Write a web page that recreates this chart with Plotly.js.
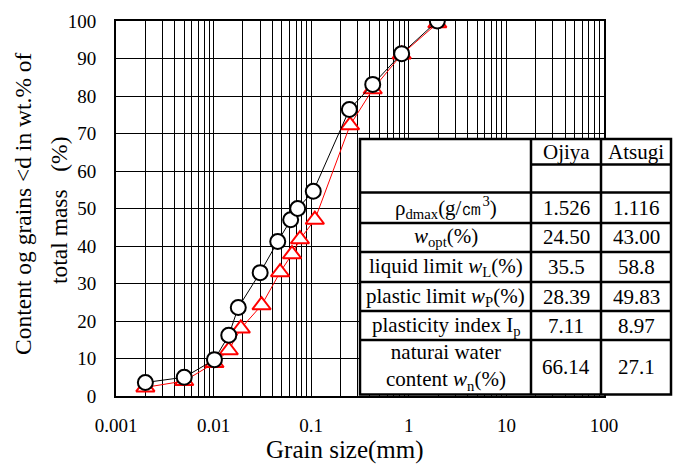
<!DOCTYPE html>
<html>
<head>
<meta charset="utf-8">
<script src="https://cdn.plot.ly/plotly-3.0.1.min.js"></script>
<style>html,body{margin:0;padding:0;background:#fff;}#chart{width:676px;height:464px;}</style>
</head>
<body>
<div id="chart"></div>
<script>
// ---- data ----
const grainSizeA = [0.002, 0.005, 0.0102, 0.0143, 0.0179, 0.030, 0.0454, 0.0616, 0.0727, 0.105, 0.246, 0.427, 0.845, 1.96];
const passingA   = [3.6, 5.0, 9.7, 16.2, 23.6, 32.9, 41.2, 47.0, 50.0, 54.6, 76.4, 83.1, 91.3, 100];
const grainSizeB = [0.002, 0.005, 0.0102, 0.0143, 0.019, 0.031, 0.048, 0.0636, 0.0767, 0.109, 0.25, 0.427, 0.845, 1.96];
const passingB   = [2.3, 4.0, 8.8, 12.2, 18.0, 24.2, 33.0, 37.8, 41.8, 47.0, 72.2, 81.8, 91.1, 99.4];

const tableCols   = ["Ojiya", "Atsugi"];
const rowLabels   = ["ρ<sub>dmax</sub>(g/㎝<sup>3</sup>)", "<i>w</i><sub>opt</sub>(%)", "liquid limit <i>w</i><sub>L</sub>(%)",
                     "plastic limit <i>w</i><sub>P</sub>(%)", "plasticity index I<sub>p</sub>", "naturai water<br>content <i>w</i><sub>n</sub>(%)"];
const ojiyaVals   = ["1.526", "24.50", "35.5", "28.39", "7.11", "66.14"];
const atsugiVals  = ["1.116", "43.00", "58.8", "49.83", "8.97", "27.1"];
const xTickVals   = [0.001, 0.01, 0.1, 1, 10, 100];
const xTickText   = ["0.001", "0.01", "0.1", "1", "10", "100"];
const xTitle      = "Grain size(mm)";
const yTitleLines = ["Content og grains &lt;d in wt.% of", "total mass\u00a0\u00a0\u00a0(%)"];

// ---- layout geometry (pixels) ----
const W = 676, H = 464;
const M = {l: 116, r: 72, t: 21, b: 68};
const PW = W - M.l - M.r, PH = H - M.t - M.b;
const px = v => (v - M.l) / PW;
const py = v => (H - M.b - v) / PH;
const tX = [360, 531, 601, 671];           // column edges
const tY = [139, 164.5, 192.5, 223, 252, 282, 311, 340, 394.5]; // row edges
const FONT = "Liberation Serif, Times New Roman, serif";
const TFS = 21;

const shapes = [];
const line = (x0, y0, x1, y1) => shapes.push({type: 'line', xref: 'paper', yref: 'paper', layer: 'above',
  x0: px(x0), y0: py(y0), x1: px(x1), y1: py(y1), line: {color: '#000', width: 2.5}});
shapes.push({type: 'rect', xref: 'paper', yref: 'paper', layer: 'above',
  x0: px(tX[0]), x1: px(tX[3]), y0: py(tY[0]), y1: py(tY[8]), fillcolor: '#fff', line: {color: '#000', width: 2.5}});
line(tX[1], tY[0], tX[1], tY[8]);
line(tX[2], tY[0], tX[2], tY[8]);
line(tX[1], tY[1], tX[3], tY[1]);
for (let i = 2; i < 8; i++) line(tX[0], tY[i], tX[3], tY[i]);

const annotations = [];
const txt = (text, x, y, size, angle) => annotations.push({text, xref: 'paper', yref: 'paper', x: px(x), y: py(y),
  xanchor: 'center', yanchor: 'middle', showarrow: false, textangle: angle || 0,
  font: {family: FONT, size: size || TFS, color: '#000'}});
txt(tableCols[0], (tX[1] + tX[2]) / 2, (tY[0] + tY[1]) / 2);
txt(tableCols[1], (tX[2] + tX[3]) / 2, (tY[0] + tY[1]) / 2);
for (let i = 0; i < rowLabels.length; i++) {
  const yc = (tY[i + 2] + tY[i + 3]) / 2;
  txt(rowLabels[i], (tX[0] + tX[1]) / 2, yc);
  txt(ojiyaVals[i], (tX[1] + tX[2]) / 2, yc);
  txt(atsugiVals[i], (tX[2] + tX[3]) / 2, yc);
}
// axis titles
txt(xTitle, 345, 450, 25);
txt(yTitleLines[0], 23, 204, 23.5, -90);
txt(yTitleLines[1], 59, 210, 23.5, -90);

const traces = [
  {x: grainSizeB, y: passingB, type: 'scatter', mode: 'lines+markers', name: 'Atsugi',
   line: {color: '#ff0000', width: 1},
   marker: {symbol: 'triangle-up', size: 16, color: '#fff', line: {color: '#ff0000', width: 2}}},
  {x: grainSizeA, y: passingA, type: 'scatter', mode: 'lines+markers', name: 'Ojiya',
   line: {color: '#000', width: 1},
   marker: {symbol: 'circle', size: 15, color: '#fff', line: {color: '#000', width: 2}}}
];

const layout = {
  width: W, height: H, margin: M, showlegend: false,
  paper_bgcolor: '#fff', plot_bgcolor: '#fff',
  font: {family: FONT, color: '#000'},
  xaxis: {type: 'log', range: [-3, 2], tickvals: xTickVals, ticktext: xTickText,
    showgrid: true, gridcolor: '#000', gridwidth: 1,
    minor: {dtick: 'D1', showgrid: true, gridcolor: '#000', gridwidth: 1},
    showline: true, mirror: true, linecolor: '#000', linewidth: 2, ticks: '',
    ticklabelstandoff: 11, tickfont: {family: FONT, size: 19, color: '#000'}, zeroline: false},
  yaxis: {range: [0, 100], dtick: 10, showgrid: true, gridcolor: '#000', gridwidth: 1,
    showline: true, mirror: true, linecolor: '#000', linewidth: 2, ticks: '',
    ticklabelstandoff: 14, tickfont: {family: FONT, size: 19, color: '#000'}, zeroline: false},
  shapes, annotations
};
Plotly.newPlot('chart', traces, layout, {displayModeBar: false, staticPlot: true});
</script>
</body>
</html>
